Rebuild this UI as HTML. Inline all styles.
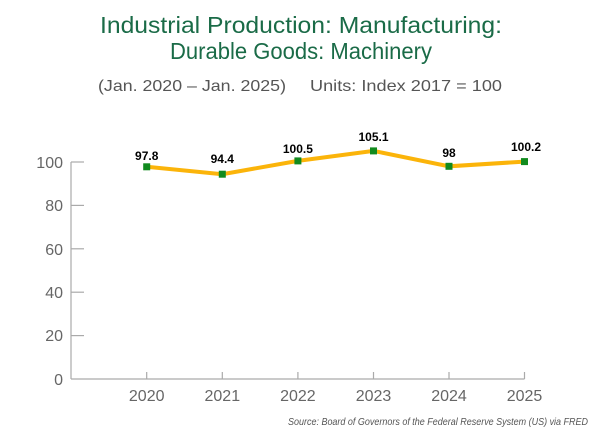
<!DOCTYPE html>
<html><head><style>
body{margin:0;background:#fff;}
svg{display:block;font-family:"Liberation Sans",sans-serif;}
</style></head><body>
<svg width="602" height="432" viewBox="0 0 602 432">
<text x="301" y="33" text-anchor="middle" font-size="23.5" fill="#1a6b47" textLength="402" lengthAdjust="spacingAndGlyphs">Industrial Production: Manufacturing:</text>
<text x="301" y="59" text-anchor="middle" font-size="23.5" fill="#1a6b47" textLength="262" lengthAdjust="spacingAndGlyphs">Durable Goods: Machinery</text>
<text x="98" y="91" font-size="16" fill="#555" textLength="188" lengthAdjust="spacingAndGlyphs">(Jan. 2020 – Jan. 2025)</text>
<text x="310" y="91" font-size="16" fill="#555" textLength="192" lengthAdjust="spacingAndGlyphs">Units: Index 2017 = 100</text>
<g stroke="#aaa" stroke-width="1.2">
<line x1="71" y1="162" x2="71" y2="379"/>
<line x1="71" y1="379" x2="524.5" y2="379"/>
<line x1="71" y1="162" x2="84" y2="162"/>
<line x1="71" y1="205.4" x2="84" y2="205.4"/>
<line x1="71" y1="248.8" x2="84" y2="248.8"/>
<line x1="71" y1="292.2" x2="84" y2="292.2"/>
<line x1="71" y1="335.6" x2="84" y2="335.6"/>
<line x1="146.7" y1="372" x2="146.7" y2="379"/>
<line x1="222.3" y1="372" x2="222.3" y2="379"/>
<line x1="297.9" y1="372" x2="297.9" y2="379"/>
<line x1="373.5" y1="372" x2="373.5" y2="379"/>
<line x1="449" y1="372" x2="449" y2="379"/>
<line x1="524.5" y1="372" x2="524.5" y2="379"/>
</g>
<g font-size="16" fill="#666" text-anchor="end">
<text x="63" y="168">100</text><text x="63" y="211">80</text><text x="63" y="255">60</text><text x="63" y="298">40</text><text x="63" y="341">20</text><text x="63" y="385">0</text>
</g>
<g font-size="16" fill="#666" text-anchor="middle">
<text x="146.7" y="401">2020</text><text x="222.3" y="401">2021</text><text x="297.9" y="401">2022</text><text x="373.5" y="401">2023</text><text x="449" y="401">2024</text><text x="524.5" y="401">2025</text>
</g>
<polyline fill="none" stroke="#fbb40a" stroke-width="4" points="146.7,166.8 222.3,174.2 297.9,160.9 373.5,150.9 449,166.3 524.5,161.6"/>
<g fill="#118a1e">
<rect x="143.2" y="163.3" width="7" height="7"/><rect x="218.8" y="170.7" width="7" height="7"/><rect x="294.4" y="157.4" width="7" height="7"/><rect x="370" y="147.4" width="7" height="7"/><rect x="445.5" y="162.8" width="7" height="7"/><rect x="521" y="158.1" width="7" height="7"/>
</g>
<g font-size="12" font-weight="bold" fill="#000" text-anchor="middle">
<text x="146.7" y="160">97.8</text><text x="222.3" y="163">94.4</text><text x="297.9" y="153">100.5</text><text x="373.5" y="141">105.1</text><text x="449" y="157">98</text><text x="526" y="151">100.2</text>
</g>
<text x="588" y="425" text-anchor="end" font-size="10.5" font-style="italic" fill="#555" textLength="300" lengthAdjust="spacingAndGlyphs">Source: Board of Governors of the Federal Reserve System (US) via FRED</text>
</svg>
</body></html>
